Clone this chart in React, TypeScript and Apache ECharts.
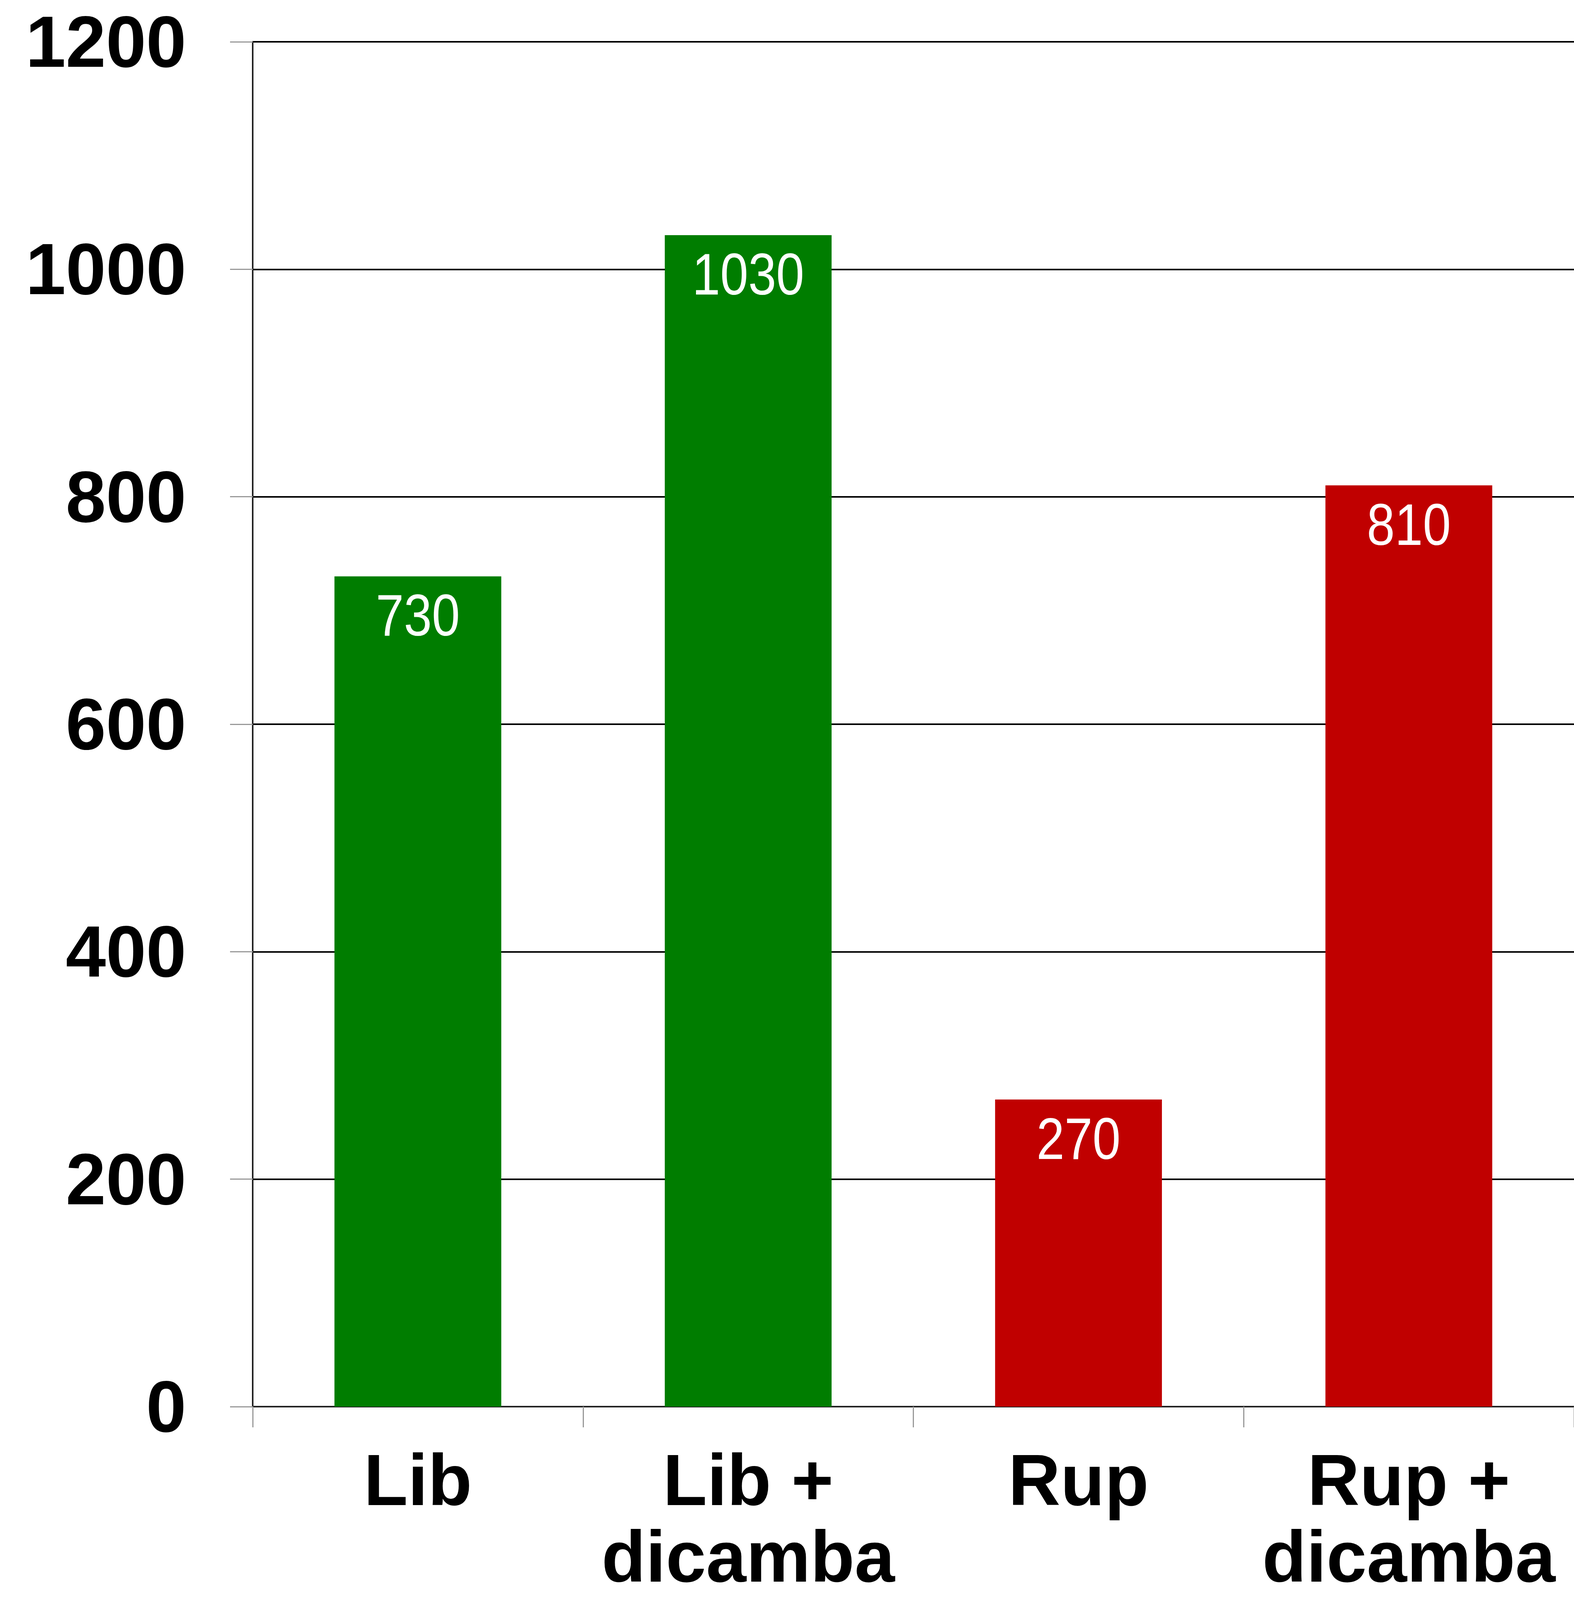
import React, { useEffect, useRef } from "react";
import * as echarts from "echarts";

const categories = ["Lib", "Lib +\ndicamba", "Rup", "Rup +\ndicamba"];
const values = [730, 1030, 270, 810];
const barColors = ["#007D00", "#007D00", "#C00000", "#C00000"];
const yMin = 0;
const yMax = 1200;
const yStep = 200;

export default function App() {
  const ref = useRef<HTMLDivElement>(null);
  useEffect(() => {
    document.body.style.margin = "0";
    if (!ref.current) return;
    const chart = echarts.init(ref.current, null, { renderer: "svg" });
    const labelFont = {
      color: "#000",
      fontFamily: "Liberation Sans, Arial, sans-serif",
      fontWeight: "bold" as const,
      fontSize: 185,
    };
    chart.setOption({
      animation: false,
      backgroundColor: "#ffffff",
      grid: { left: 647, right: 0, top: 107, bottom: 495, containLabel: false },
      xAxis: {
        type: "category",
        data: categories,
        boundaryGap: true,
        axisLine: { show: true, lineStyle: { color: "#222", width: 4 } },
        axisTick: { show: true, length: 53, lineStyle: { color: "#999", width: 3 } },
        axisLabel: {
          ...labelFont,
          margin: 52,
          interval: 0,
          formatter: (v: string) =>
            v
              .split("\n")
              .map((s, i) => (i === 0 ? `{a|${s}}` : `{b|${s}}`))
              .join("\n"),
          rich: {
            a: { ...labelFont, lineHeight: 272 },
            b: { ...labelFont, lineHeight: 120 },
          },
        },
      },
      yAxis: {
        type: "value",
        min: yMin,
        max: yMax,
        interval: yStep,
        axisLine: { show: true, lineStyle: { color: "#222", width: 4 } },
        axisTick: { show: true, length: 58, lineStyle: { color: "#999", width: 3 } },
        splitLine: { show: true, lineStyle: { color: "#000", width: 4 } },
        axisLabel: {
          ...labelFont,
          margin: 170,
          formatter: (v: number) => String(v),
        },
      },
      series: [
        {
          type: "bar",
          barWidth: "50.5%",
          data: values.map((v, i) => ({ value: v, itemStyle: { color: barColors[i] } })),
        },
        {
          type: "custom",
          data: values.map((v, i) => [i, v]),
          z: 10,
          renderItem: (params: any, api: any) => {
            const p = api.coord([api.value(0), api.value(1)]);
            return {
              type: "text",
              x: p[0],
              y: p[1] + 100,
              scaleX: 0.86,
              style: {
                text: String(api.value(1)),
                fill: "#ffffff",
                font: '150px "Liberation Sans", Arial, sans-serif',
                align: "center",
                verticalAlign: "middle",
              },
            };
          },
        },
      ],
    });
    return () => chart.dispose();
  }, []);
  return <div ref={ref} style={{ width: 4030, height: 4096 }} />;
}
